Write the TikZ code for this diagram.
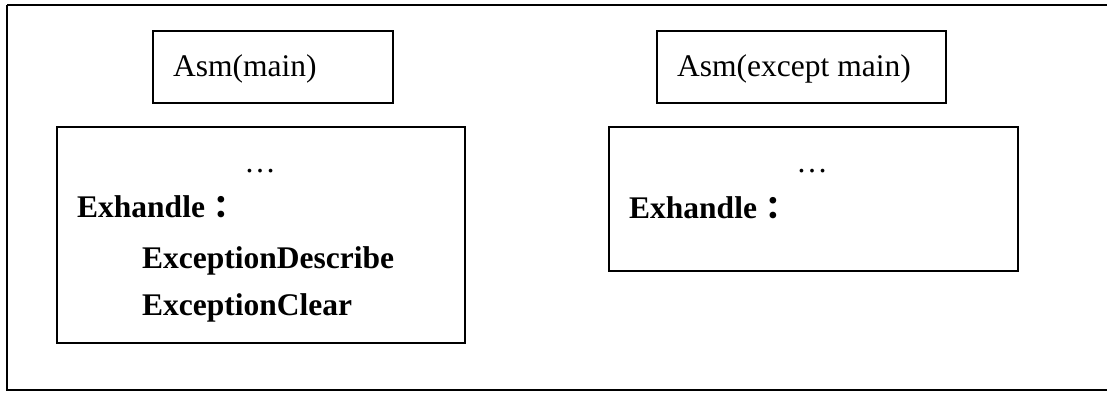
\documentclass[tikz,border=0pt]{standalone}
\usepackage{fontspec}
\setmainfont{Liberation Serif}
\newfontfamily\cjkfont{Noto Sans CJK SC}
\begin{document}
\begin{tikzpicture}[x=1pt,y=-1pt,
  frameline/.style={draw=black,line width=2pt},
  box/.style={draw=black,line width=2pt,rectangle,inner sep=0pt,anchor=north west},
  label/.style={inner sep=0pt,anchor=base west,font=\fontsize{31.5}{36}\selectfont},
  boldlabel/.style={label,font=\fontsize{31.5}{36}\selectfont\bfseries},
  dotslabel/.style={inner sep=0pt,anchor=base,font=\fontsize{31.5}{36}\selectfont}]
  \useasboundingbox (0,0) rectangle (1107,392);
  % outer frame (its right side runs past the page edge)
  \draw[frameline] (7,5) -- (1115,5);
  \draw[frameline] (7,5) -- (7,390) -- (1115,390);

  % header boxes
  \node[box,minimum width=240pt,minimum height=72pt] (mainhdr) at (152,30) {};
  \node[box,minimum width=289pt,minimum height=72pt] (otherhdr) at (656,30) {};
  \node[label] (mainname) at (173,76) {Asm(main)};
  \node[label] (othername) at (677,76) {Asm(except main)};

  % body boxes
  \node[box,minimum width=408pt,minimum height=216pt] (mainbody) at (56,126) {};
  \node[box,minimum width=409pt,minimum height=144pt] (otherbody) at (608,126) {};

  % left body text
  \node[dotslabel] (maindots) at (260,172) {\dots};
  \node[boldlabel] (mainex) at (77,217) {Exhandle\hspace{8pt}{\cjkfont ：}};
  \node[boldlabel] (describe) at (142,268) {ExceptionDescribe};
  \node[boldlabel] (clear) at (142,315) {ExceptionClear};

  % right body text
  \node[dotslabel] (otherdots) at (812,172) {\dots};
  \node[boldlabel] (otherex) at (629,218) {Exhandle\hspace{8pt}{\cjkfont ：}};
\end{tikzpicture}
\end{document}
